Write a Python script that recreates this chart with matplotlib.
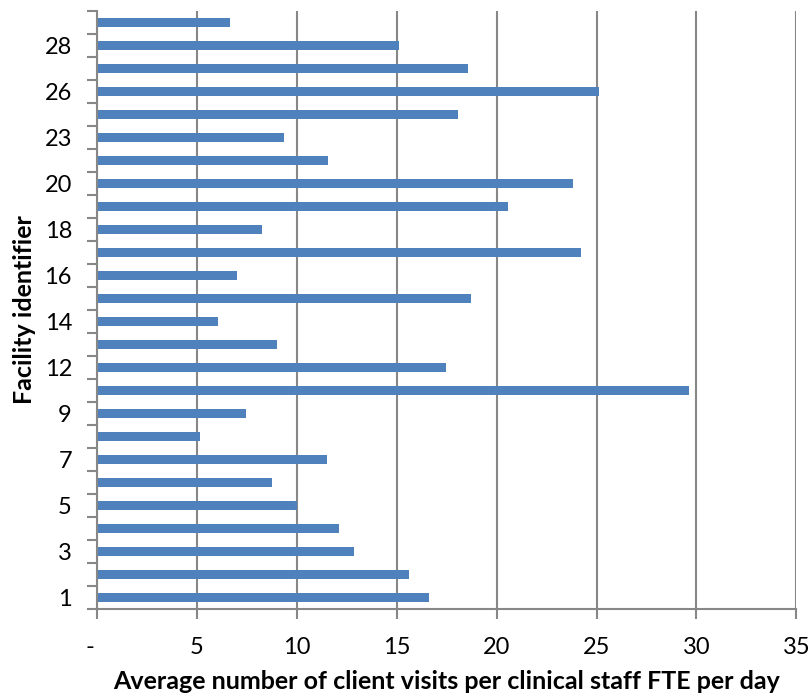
import matplotlib
matplotlib.use("Agg")
import matplotlib.pyplot as plt
import matplotlib.transforms as mtransforms
import numpy as np

# Facility identifiers, bottom to top, and their average visits per clinical FTE per day
facility_ids = [1, 2, 3, 4, 5, 6, 7, 8, 9, 10, 12, 13, 14, 15, 16, 17, 18, 19,
                20, 21, 23, 24, 26, 27, 28, 29]
visits_per_fte = [16.63, 15.62, 12.88, 12.1, 10.0, 8.78, 11.5, 5.18, 7.48, 29.65,
                  17.45, 9.0, 6.08, 18.72, 7.03, 24.2, 8.28, 20.55,
                  23.8, 11.55, 9.35, 18.08, 25.1, 18.58, 15.1, 6.67]
x_ticks = [0, 5, 10, 15, 20, 25, 30, 35]
x_tick_labels = ["-", "5", "10", "15", "20", "25", "30", "35"]

plt.rcParams["font.family"] = ["Lato", "DejaVu Sans"]
grid_grey = "#878787"

fig = plt.figure(figsize=(8.11, 6.99), dpi=100)
ax = fig.add_axes([0.1195, 0.1288, 0.8625, 0.8555])

pos = np.arange(len(facility_ids))
ax.barh(pos, visits_per_fte, height=0.4, color="#4f81bd", zorder=3)

ax.set_xlim(0, 35)
ax.set_ylim(-0.5, len(facility_ids) - 0.5)

ax.set_xticks(x_ticks)
ax.set_xticklabels(x_tick_labels, fontsize=17)
ax.grid(axis="x", color=grid_grey, linewidth=1.5, zorder=1)
ax.tick_params(axis="x", direction="out", length=7, width=1.5, color=grid_grey, pad=13)

# every other category is labelled; tick marks sit on category boundaries
ax.set_yticks(pos[::2])
ax.set_yticklabels([str(f) for f in facility_ids[::2]], fontsize=17)
ax.tick_params(axis="y", which="major", length=0, pad=18)
ax.set_yticks(np.arange(len(facility_ids) + 1) - 0.5, minor=True)
ax.tick_params(axis="y", which="minor", direction="out", length=7, width=1.5, color=grid_grey)

# zero label sits a little left of the axis, accounting-format style
lbl0 = ax.get_xticklabels()[0]
lbl0.set_transform(lbl0.get_transform() + mtransforms.ScaledTranslation(-7 / 100, 0, fig.dpi_scale_trans))

for side in ("top", "right"):
    ax.spines[side].set_visible(False)
for side in ("left", "bottom"):
    ax.spines[side].set_color(grid_grey)
    ax.spines[side].set_linewidth(1.5)
    ax.spines[side].set_zorder(4)

ax.set_xlabel("Average number of client visits per clinical staff FTE per day",
              fontsize=18, fontweight="bold", labelpad=9)
ax.set_ylabel("Facility identifier", fontsize=18, fontweight="bold", labelpad=6)

fig.savefig("out.png", dpi=100)
